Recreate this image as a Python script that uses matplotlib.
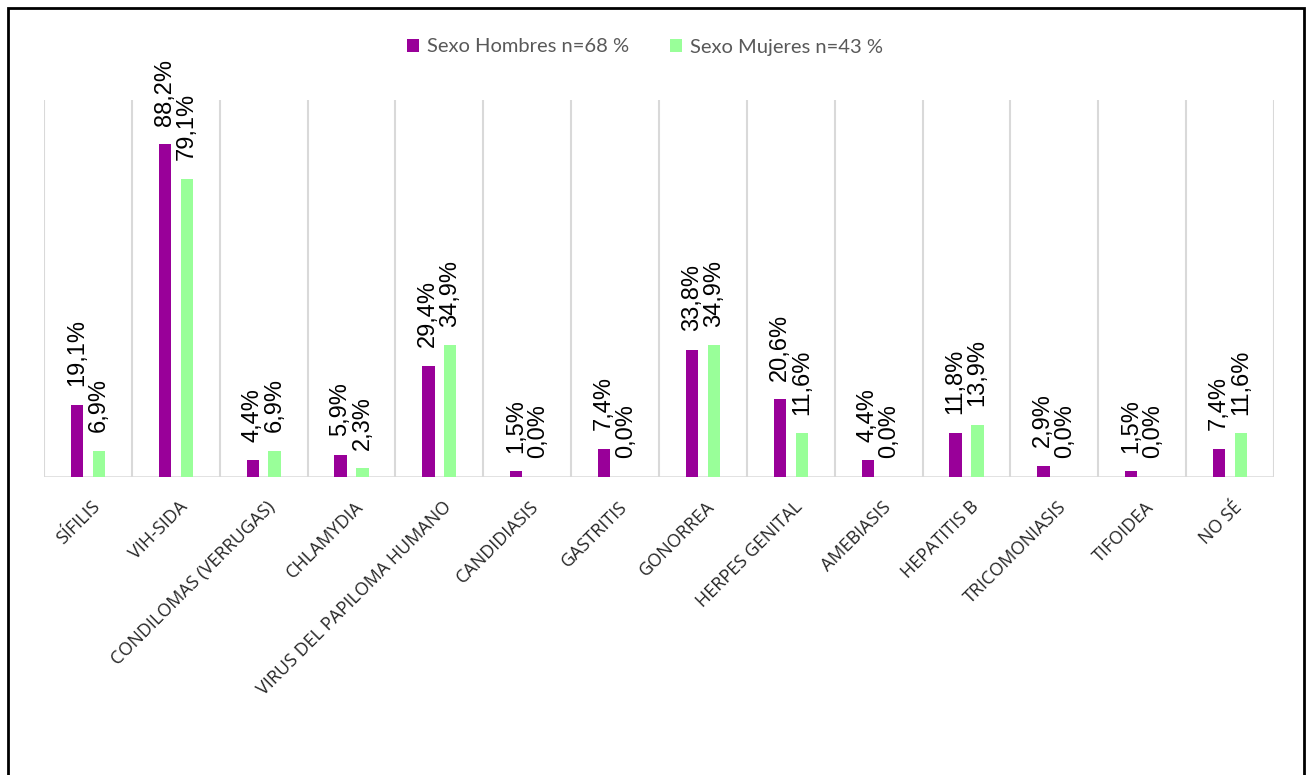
import matplotlib
matplotlib.use("Agg")
import matplotlib.pyplot as plt
from matplotlib.patches import Rectangle
import numpy as np

categories = ["SÍFILIS", "VIH-SIDA", "CONDILOMAS (VERRUGAS)", "CHLAMYDIA",
              "VIRUS DEL PAPILOMA HUMANO", "CANDIDIASIS", "GASTRITIS", "GONORREA",
              "HERPES GENITAL", "AMEBIASIS", "HEPATITIS B", "TRICOMONIASIS",
              "TIFOIDEA", "NO SÉ"]
hombres = [19.1, 88.2, 4.4, 5.9, 29.4, 1.5, 7.4, 33.8, 20.6, 4.4, 11.8, 2.9, 1.5, 7.4]
mujeres = [6.9, 79.1, 6.9, 2.3, 34.9, 0.0, 0.0, 34.9, 11.6, 0.0, 13.9, 0.0, 0.0, 11.6]
series_names = ["Sexo Hombres n=68 %", "Sexo Mujeres n=43 %"]
colors = ["#990099", "#99FF99"]

W, H = 1309, 775
fig = plt.figure(figsize=(W / 100, H / 100), dpi=100)
ax = fig.add_axes([44 / W, (H - 477) / H, (1274 - 44) / W, (477 - 100) / H])

x = np.arange(len(categories))
bw = 0.14
off = 0.125
ax.bar(x - off, hombres, bw, color=colors[0], label=series_names[0], zorder=3)
ax.bar(x + off, mujeres, bw, color=colors[1], label=series_names[1], zorder=3)

ax.set_xlim(-0.5, len(categories) - 0.5)
ax.set_ylim(0, 100)

for b in np.arange(-0.5, len(categories), 1.0):
    ax.axvline(b, color="#d9d9d9", lw=1.5, zorder=1)
ax.axhline(0, color="#d9d9d9", lw=1.8, zorder=2)

for s in ax.spines.values():
    s.set_visible(False)
ax.set_yticks([])
ax.set_xticks(x)
ax.tick_params(axis="x", length=0, pad=0)
ax.set_xticklabels([])
for xi, lab in zip(x, categories):
    ax.annotate(lab, xy=(xi, 0), xycoords="data", xytext=(2, -15),
                textcoords="offset points", rotation=45, ha="right", va="top",
                rotation_mode="anchor", fontsize=13, family="Open Sans",
                color="#262626")

def fmt(v):
    return f"{v:.1f}".replace(".", ",") + "%"

for xi, v in zip(x, hombres):
    ax.annotate(fmt(v), xy=(xi - off, v), xytext=(0, 13.5), textcoords="offset points",
                rotation=90, ha="center", va="bottom", fontsize=17,
                family="Liberation Sans", color="#000000")
for xi, v in zip(x, mujeres):
    ax.annotate(fmt(v), xy=(xi + off, v), xytext=(0, 13.5), textcoords="offset points",
                rotation=90, ha="center", va="bottom", fontsize=17,
                family="Liberation Sans", color="#000000")

leg = fig.legend(loc="center", bbox_to_anchor=(645 / W, 1 - 47 / H), ncol=2,
                 frameon=False, handlelength=0.6, handleheight=0.6,
                 handletextpad=0.4, columnspacing=2.0,
                 prop={"family": "Lato", "size": 14.5})
for t in leg.get_texts():
    t.set_color("#595959")

fig.patches.append(Rectangle((8 / W, -0.01), (1304 - 8) / W, 1 - 8 / H + 0.01,
                             transform=fig.transFigure, fill=False,
                             edgecolor="black", lw=2))

fig.savefig("out.png", dpi=100)
